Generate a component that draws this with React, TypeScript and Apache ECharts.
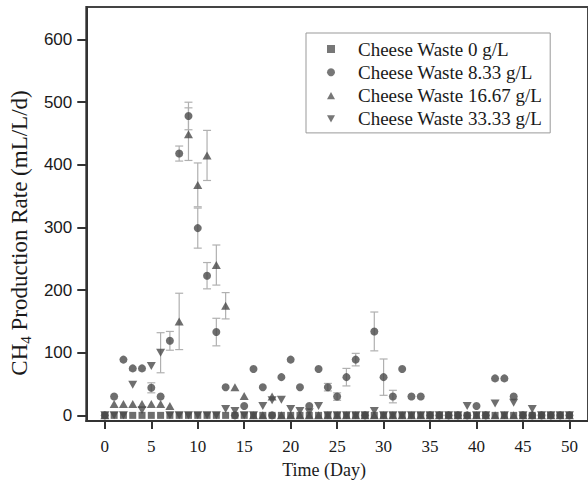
import React, { useEffect, useRef } from "react";
import * as echarts from "echarts";

const days: number[] = Array.from({ length: 51 }, (_, i) => i);

const seriesNames = [
  "Cheese Waste 0 g/L",
  "Cheese Waste 8.33 g/L",
  "Cheese Waste 16.67 g/L",
  "Cheese Waste 33.33 g/L",
];

// values for days 0..50
const cw0: number[] = [
  0, 0, 0, 0, 0, 0, 0, 0, 0, 0, 0, 0, 0, 0, 0, 0, 0, 0, 0, 0, 0, 0, 0, 0, 0, 0,
  0, 0, 0, 0, 0, 0, 0, 0, 0, 0, 0, 0, 0, 0, 0, 0, 0, 0, 0, 0, 0, 0, 0, 0, 0,
];
const cw833: number[] = [
  0, 30, 89, 75, 75, 44, 30, 119, 418, 478, 299, 223, 133, 45, 0, 15, 74, 45, 0,
  61, 89, 45, 15, 74, 45, 30, 61, 89, 0, 134, 61, 30, 74, 30, 30, 0, 0, 0, 0, 0,
  15, 0, 59, 59, 30, 0, 0, 0, 0, 0, 0,
];
const cw1667: number[] = [
  0, 18, 18, 18, 18, 18, 18, 15, 150, 449, 368, 415, 240, 175, 45, 31, 0, 0, 30,
  0, 0, 0, 0, 0, 0, 0, 0, 0, 0, 0, 0, 0, 0, 0, 0, 0, 0, 0, 0, 0, 0, 0, 0, 0, 0, 0,
  0, 0, 0, 0, 0,
];
const cw3333: number[] = [
  0, 0, 0, 49, 8, 79, 100, 0, 0, 0, 0, 0, 0, 10, 7, 0, 0, 15, 24, 25, 10, 7, 5, 15,
  0, 0, 0, 0, 0, 7, 0, 0, 0, 0, 0, 0, 0, 0, 0, 15, 0, 0, 19, 0, 20, 0, 10, 0, 0, 0,
  0,
];

// error bars: [day, standard deviation]
const err833: [number, number][] = [
  [5, 8], [7, 15], [8, 12], [9, 22], [10, 32], [11, 21], [12, 22], [24, 6],
  [25, 6], [26, 14], [27, 10], [29, 31], [30, 29], [31, 10],
];
const err1667: [number, number][] = [
  [8, 45], [9, 42], [10, 35], [11, 40], [12, 32], [13, 21],
];
const err3333: [number, number][] = [[6, 32]];

const xTicks = [0, 5, 10, 15, 20, 25, 30, 35, 40, 45, 50];
const yTicks = [0, 100, 200, 300, 400, 500, 600];

const MARK = "#4a4a4a";
const SERIF = "'Liberation Serif', 'Times New Roman', serif";
const SANS = "'Liberation Sans', Arial, sans-serif";

export default function App() {
  const ref = useRef<HTMLDivElement>(null);
  useEffect(() => {
    if (!ref.current) return;
    const chart = echarts.init(ref.current, undefined, { renderer: "svg" });

    const toPts = (arr: number[]) => days.map((d) => [d, arr[d]]);
    const errData: number[][] = [];
    const addErr = (vals: number[], errs: [number, number][]) => {
      errs.forEach(([d, e]) => errData.push([d, vals[d] - e, vals[d] + e]));
    };
    addErr(cw833, err833);
    addErr(cw1667, err1667);
    addErr(cw3333, err3333);

    const gray = { color: "#b0b0b0", width: 1.2 };

    chart.setOption({
      animation: false,
      backgroundColor: "#ffffff",
      grid: {
        left: 82,
        top: 7,
        width: 514,
        height: 414,
        show: true,
        borderColor: "#444",
        borderWidth: 2,
      },
      legend: {
        data: [
          { name: seriesNames[0], icon: "rect" },
          { name: seriesNames[1], icon: "circle" },
          { name: seriesNames[2], icon: "path://M5,0 L10,9 L0,9 Z" },
          { name: seriesNames[3], icon: "path://M0,0 L10,0 L5,9 Z" },
        ],
        orient: "vertical",
        left: 306,
        top: 33,
        padding: [6, 8, 4, 21],
        itemGap: 3.3,
        itemWidth: 8,
        itemHeight: 8,
        borderColor: "#999",
        borderWidth: 1,
        itemStyle: { color: "#555" },
        textStyle: {
          fontFamily: SERIF,
          fontSize: 19,
          color: "#1a1a1a",
          lineHeight: 20,
          padding: [0, 0, 0, 18],
        },
      },
      xAxis: {
        type: "value",
        min: -2,
        max: 52,
        name: "Time (Day)",
        nameLocation: "middle",
        nameGap: 40,
        nameTextStyle: {
          fontFamily: SERIF,
          fontSize: 18,
          color: "#1a1a1a",
          padding: [0, 26, 0, 0],
        },
        axisLine: { show: true, onZero: false, lineStyle: { color: "#333", width: 2 } },
        axisTick: { show: true, length: 8, customValues: xTicks, lineStyle: { color: "#333", width: 2 } },
        axisLabel: {
          customValues: xTicks,
          margin: 17,
          fontFamily: SERIF,
          fontSize: 17,
          color: "#1a1a1a",
        },
        splitLine: { show: false },
      },
      yAxis: {
        type: "value",
        min: -9,
        max: 652,
        name: "{a|CH}{s|4}{a| Production Rate (mL/L/d)}",
        nameLocation: "middle",
        nameGap: 49,
        nameTextStyle: {
          color: "#1a1a1a",
          padding: [0, 38, 0, 0],
          rich: {
            a: { fontFamily: SERIF, fontSize: 23, color: "#1a1a1a", lineHeight: 25, verticalAlign: "top" },
            s: { fontFamily: SERIF, fontSize: 15, color: "#1a1a1a", lineHeight: 15, verticalAlign: "bottom" },
          },
        },
        axisLine: { show: true, onZero: false, lineStyle: { color: "#333", width: 2 } },
        axisTick: { show: true, length: 9, customValues: yTicks, lineStyle: { color: "#333", width: 2 } },
        axisLabel: {
          customValues: yTicks,
          margin: 14,
          fontFamily: SANS,
          fontSize: 17,
          color: "#1a1a1a",
        },
        splitLine: { show: false },
      },
      series: [
        {
          type: "custom",
          name: "errors",
          z: 1,
          silent: true,
          data: errData,
          encode: { x: 0, y: [1, 2] },
          renderItem: (params: any, api: any) => {
            const x = api.value(0);
            const lo = api.value(1);
            const hi = api.value(2);
            const p1 = api.coord([x, hi]);
            const p2 = api.coord([x, lo]);
            const hw = 4;
            const style = { stroke: gray.color, lineWidth: gray.width };
            return {
              type: "group",
              children: [
                { type: "line", shape: { x1: p1[0], y1: p1[1], x2: p2[0], y2: p2[1] }, style },
                { type: "line", shape: { x1: p1[0] - hw, y1: p1[1], x2: p1[0] + hw, y2: p1[1] }, style },
                { type: "line", shape: { x1: p2[0] - hw, y1: p2[1], x2: p2[0] + hw, y2: p2[1] }, style },
              ],
            };
          },
        },
        {
          type: "scatter",
          name: seriesNames[0],
          symbol: "rect",
          symbolSize: 7,
          itemStyle: { color: MARK },
          z: 3,
          data: toPts(cw0),
        },
        {
          type: "scatter",
          name: seriesNames[1],
          symbol: "circle",
          symbolSize: 8,
          itemStyle: { color: MARK },
          z: 3,
          data: toPts(cw833),
        },
        {
          type: "scatter",
          name: seriesNames[2],
          symbol: "triangle",
          symbolSize: [9, 8],
          itemStyle: { color: MARK },
          z: 3,
          data: toPts(cw1667),
        },
        {
          type: "scatter",
          name: seriesNames[3],
          symbol: "triangle",
          symbolRotate: 180,
          symbolSize: [9, 8],
          itemStyle: { color: MARK },
          z: 3,
          data: toPts(cw3333),
        },
      ],
    });
    return () => chart.dispose();
  }, []);
  return (
    <div
      ref={ref}
      style={{ position: "fixed", left: 0, top: 0, width: 588, height: 488, background: "#fff" }}
    />
  );
}
